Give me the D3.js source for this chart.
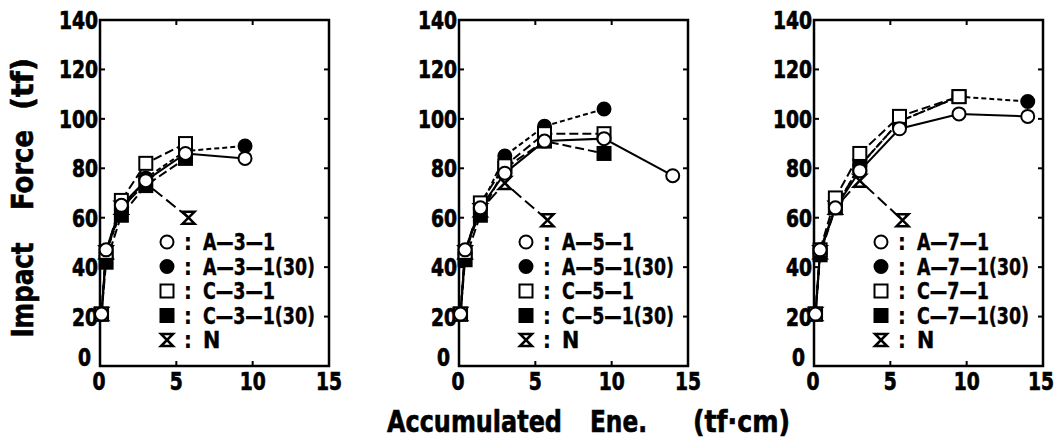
<!DOCTYPE html>
<html>
<head>
<meta charset="utf-8">
<script src="https://cdn.jsdelivr.net/npm/d3@7"></script>
<style>
  body { margin: 0; background: #fff; }
  text { font-family: "Liberation Sans Narrow", "DejaVu Sans Condensed", "Arial Narrow", sans-serif; font-weight: bold; fill: #000; }
</style>
</head>
<body>
<div id="chart"></div>
<script>
// ---------------- data ----------------
const energy = [0.1, 0.4, 1.4, 3.0, 5.6, 9.5, 14.0];
const energyN = [0.1, 0.4, 1.4, 3.0, 5.8];
const yTicks = [0, 20, 40, 60, 80, 100, 120, 140];
const xTicks = [0, 5, 10, 15];

// panel 1 (type 3)
const a3 = [21, 47, 65, 75, 86, 84];
const a3_30 = [21, 46, 63, 76, 87, 89];
const c3 = [21, 46, 67, 82, 90];
const c3_30 = [21, 42, 61, 73, 84];
const n3 = [21, 46, 64, 74, 60];
// panel 2 (type 5)
const a5 = [21, 47, 64, 78, 91, 92, 77];
const a5_30 = [21, 46, 64, 85, 97, 104];
const c5 = [21, 46, 66, 81, 94, 94];
const c5_30 = [21, 43, 61, 80, 91, 86];
const n5 = [21, 46, 63, 74, 59];
// panel 3 (type 7)
const a7 = [21, 47, 64, 79, 96, 102, 101];
const a7_30 = [21, 46, 64, 81, 99, 109, 107];
const c7 = [21, 47, 68, 86, 101, 109];
const c7_30 = [21, 45, 64, 81, 99, 109];
const n7 = [21, 46, 64, 75, 59];

const panelTypes = ['3', '5', '7'];
const panelData = [
  [a3, a3_30, c3, c3_30, n3],
  [a5, a5_30, c5, c5_30, n5],
  [a7, a7_30, c7, c7_30, n7]
];

// ---------------- layout ----------------
const W = 1057, H = 447;
const lefts = [100, 459, 814];
const pw = 229, plotTop = 20, plotBottom = 366;
const digitW = 13; // narrow digits like the original

// series styles: marker, dash
const styles = [
  { mark: 'circle', fill: '#fff', dash: null },
  { mark: 'circle', fill: '#000', dash: '5,3' },
  { mark: 'square', fill: '#fff', dash: '9,4' },
  { mark: 'square', fill: '#000', dash: '9,4' },
  { mark: 'hour', fill: '#fff', dash: '12,5' }
];

const svg = d3.select('#chart').append('svg')
  .attr('width', W).attr('height', H);

function drawMarker(g, type, fill, x, y) {
  if (type === 'circle') {
    g.append('circle').attr('cx', x).attr('cy', y).attr('r', 6.5)
      .attr('fill', fill).attr('stroke', '#000').attr('stroke-width', 2);
  } else if (type === 'square') {
    g.append('rect').attr('x', x - 6.5).attr('y', y - 6.5)
      .attr('width', 13).attr('height', 13)
      .attr('fill', fill).attr('stroke', '#000').attr('stroke-width', 2);
  } else {
    g.append('path')
      .attr('d', `M${x - 6},${y - 6}L${x + 6},${y - 6}L${x - 6},${y + 6}L${x + 6},${y + 6}Z`)
      .attr('fill', '#fff').attr('stroke', '#000').attr('stroke-width', 2.5)
      .attr('stroke-linejoin', 'miter');
  }
}

panelData.forEach((series, p) => {
  const x0 = lefts[p];
  const x = d3.scaleLinear().domain([0, 15]).range([x0, x0 + pw]);
  const y = d3.scaleLinear().domain([0, 140]).range([plotBottom, plotTop]);
  const g = svg.append('g');

  // frame
  g.append('rect').attr('x', x0).attr('y', plotTop)
    .attr('width', pw).attr('height', plotBottom - plotTop)
    .attr('fill', 'none').attr('stroke', '#000').attr('stroke-width', 2.5);

  // inward ticks
  yTicks.slice(1, -1).forEach(t => {
    g.append('line').attr('x1', x0 + pw).attr('x2', x0 + pw - 5)
      .attr('y1', y(t)).attr('y2', y(t)).attr('stroke', '#000').attr('stroke-width', 2);
    g.append('line').attr('x1', x0).attr('x2', x0 + 5)
      .attr('y1', y(t)).attr('y2', y(t)).attr('stroke', '#000').attr('stroke-width', 2);
  });
  xTicks.slice(1, -1).forEach(t => {
    g.append('line').attr('x1', x(t)).attr('x2', x(t))
      .attr('y1', plotBottom).attr('y2', plotBottom - 5).attr('stroke', '#000').attr('stroke-width', 2);
    g.append('line').attr('x1', x(t)).attr('x2', x(t))
      .attr('y1', plotTop).attr('y2', plotTop + 5).attr('stroke', '#000').attr('stroke-width', 2);
  });

  // tick labels (heavy, narrow)
  yTicks.forEach(t => {
    const s = String(t);
    g.append('text').attr('x', x0 - (t === 0 ? 9 : 2)).attr('y', t === 0 ? y(t) : y(t) + 9)
      .attr('text-anchor', 'end').attr('font-size', 25)
      .attr('stroke', '#000').attr('stroke-width', 0.7)
      .attr('textLength', s.length * digitW).attr('lengthAdjust', 'spacingAndGlyphs')
      .text(s);
  });
  xTicks.forEach(t => {
    const s = String(t);
    g.append('text').attr('x', x(t) - (t === 0 ? 1 : 0) - (t === 15 && p === 2 ? 2 : 0)).attr('y', plotBottom + 24)
      .attr('text-anchor', 'middle').attr('font-size', 25)
      .attr('stroke', '#000').attr('stroke-width', 0.7)
      .attr('textLength', s.length * digitW).attr('lengthAdjust', 'spacingAndGlyphs')
      .text(s);
  });

  // lines
  const line = d3.line().x(d => x(d[0])).y(d => y(d[1]));
  series.forEach((vals, s) => {
    const xs = s === 4 ? energyN : energy;
    const pts = vals.map((v, i) => [xs[i], v]);
    g.append('path').attr('d', line(pts)).attr('fill', 'none')
      .attr('stroke', '#000').attr('stroke-width', 2)
      .attr('stroke-dasharray', styles[s].dash);
  });
  // markers
  [4, 3, 1, 2, 0].forEach(s => {
    const xs = s === 4 ? energyN : energy;
    series[s].forEach((v, i) => drawMarker(g, styles[s].mark, styles[s].fill, x(xs[i]), y(v)));
  });

  // legend
  const t = panelTypes[p];
  const labels = [`A—${t}—1`, `A—${t}—1(30)`, `C—${t}—1`, `C—${t}—1(30)`, 'N'];
  const lens = [72, 112, 72, 112, 0];
  const lx = x0 + 67;
  labels.forEach((lab, i) => {
    const ly = 242 + i * 24.5;
    drawMarker(g, styles[i].mark, styles[i].fill, lx, ly);
    g.append('text').attr('x', lx + 21).attr('y', ly + 8)
      .attr('text-anchor', 'middle').attr('font-size', 23).text(':');
    const lt = g.append('text').attr('x', lx + 36).attr('y', ly + 8)
      .attr('font-size', 23).attr('stroke', '#000').attr('stroke-width', 0.4).text(lab);
    if (lens[i]) lt.attr('textLength', lens[i]).attr('lengthAdjust', 'spacingAndGlyphs');
  });
});

// axis titles
const yt = [['Impact', 290, 95], ['Force', 170, 80], ['(tf)', 84, 52]];
yt.forEach(([s, cy, len]) => {
  svg.append('text')
    .attr('transform', `translate(33,${cy}) rotate(-90)`)
    .attr('text-anchor', 'middle').attr('font-size', 31)
    .attr('stroke', '#000').attr('stroke-width', 0.6)
    .attr('textLength', len).attr('lengthAdjust', 'spacingAndGlyphs')
    .text(s);
});
const xt = [['Accumulated', 387, 175], ['Ene.', 590, 57], ['(tf·cm)', 693, 97]];
xt.forEach(([s, x, len]) => {
  svg.append('text').attr('x', x).attr('y', 432)
    .attr('font-size', 31)
    .attr('stroke', '#000').attr('stroke-width', 0.6)
    .attr('textLength', len).attr('lengthAdjust', 'spacingAndGlyphs')
    .text(s);
});
</script>
</body>
</html>
